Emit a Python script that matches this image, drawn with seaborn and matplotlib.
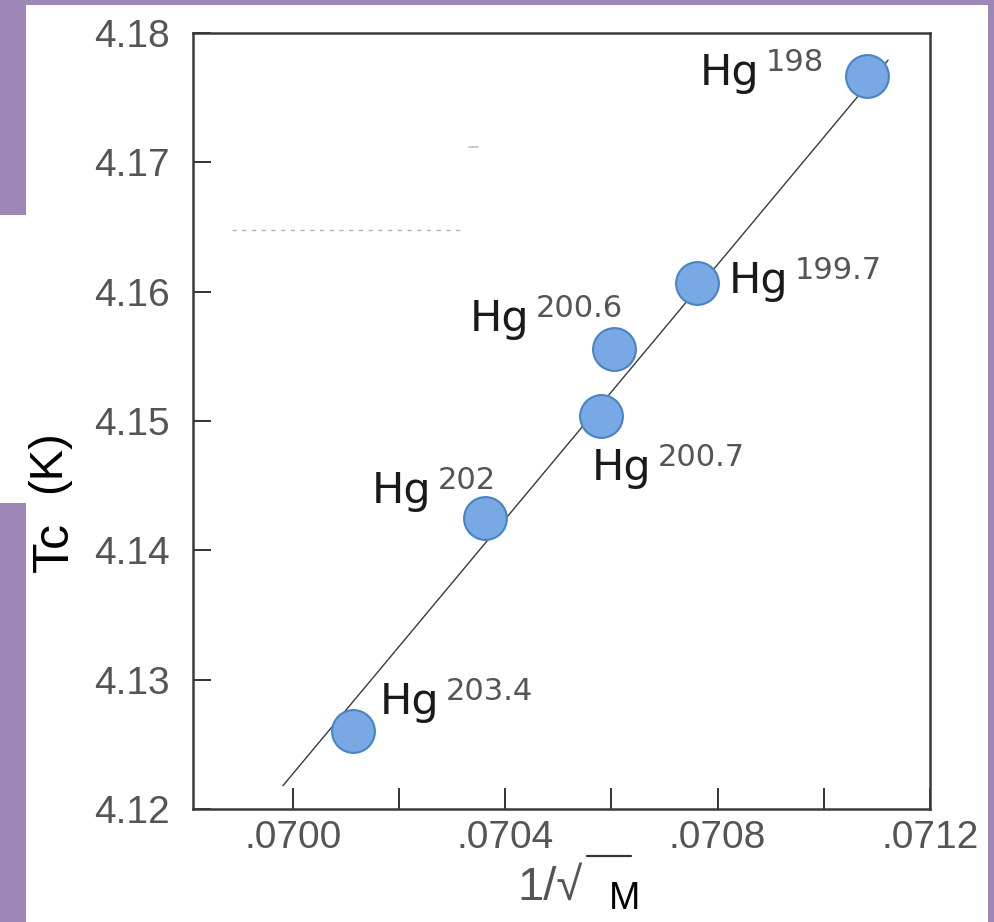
import matplotlib
matplotlib.use('Agg')
import matplotlib.pyplot as plt
import seaborn as sns
from matplotlib.patches import Rectangle
from matplotlib.lines import Line2D

# ---------------- data ----------------
isotopes = ['198', '199.7', '200.6', '200.7', '202', '203.4']
inv_sqrt_m = [0.071081, 0.070761, 0.070605, 0.070580, 0.070362, 0.070113]
tc_kelvin = [4.1767, 4.1607, 4.1556, 4.1504, 4.1425, 4.1260]

fit_x = [0.069981, 0.071121]
fit_y = [4.1218, 4.1779]

x_major = [0.0700, 0.0704, 0.0708, 0.0712]
x_major_labels = ['.0700', '.0704', '.0708', '.0712']
x_minor = [0.0702, 0.0706, 0.0710]
y_ticks = [4.12, 4.13, 4.14, 4.15, 4.16, 4.17, 4.18]
y_tick_labels = ['4.12', '4.13', '4.14', '4.15', '4.16', '4.17', '4.18']

# label offsets from point centre (pixels)
label_offsets = [(-167, -9), (32, -10), (-144, 18), (-9, -64), (-113, 15), (27, 17)]

# ---------------- style ----------------
sns.set_theme(style='white')
plt.rcParams['font.family'] = ['Liberation Sans', 'DejaVu Sans']

W, H = 994, 922
fig = plt.figure(figsize=(W / 100, H / 100), dpi=100)
fig.patch.set_facecolor('white')

purple = '#9c87b7'
def px_rect(x0, y0, x1, y1):
    fig.patches.append(Rectangle((x0 / W, 1 - y1 / H), (x1 - x0) / W, (y1 - y0) / H,
                                 transform=fig.transFigure, facecolor=purple,
                                 edgecolor='none', zorder=0))
px_rect(0, 0, W, 5)
px_rect(0, 0, 26, 215)
px_rect(0, 503, 26, H)
px_rect(988, 0, W, H)

ax = fig.add_axes([193 / W, 1 - 809 / H, (930 - 193) / W, (809 - 33) / H])
ax.set_facecolor('white')

sns.lineplot(x=fit_x, y=fit_y, color='#3a3a3a', linewidth=1.0, ax=ax, zorder=2)
sns.scatterplot(x=inv_sqrt_m, y=tc_kelvin, s=950, color='#78a9e4',
                edgecolor='#4a83c3', linewidth=1.5, ax=ax, zorder=3)

for iso, x, y, (dx, dy) in zip(isotopes, inv_sqrt_m, tc_kelvin, label_offsets):
    hg = ax.annotate('Hg', xy=(x, y), xytext=(dx, dy), textcoords='offset pixels',
                     ha='left', va='baseline', fontsize=31, family='DejaVu Sans',
                     color='#1a1a1a', zorder=4)
    ax.annotate(iso, xy=(1, 1), xycoords=hg, xytext=(6, 4), textcoords='offset pixels',
                ha='left', va='top', fontsize=22, family='DejaVu Sans',
                color='#555555', zorder=4)

ax.set_xlim(0.0700 - 100 / 106.17 * 0.0002, 0.0712)
ax.set_ylim(4.12, 4.18)
ax.set_xticks(x_major)
ax.set_xticklabels(x_major_labels)
ax.set_xticks(x_minor, minor=True)
ax.set_yticks(y_ticks)
ax.set_yticklabels(y_tick_labels)

ax.tick_params(axis='both', which='both', direction='in', color='#333333', width=1.4,
               bottom=True, left=True, top=False, right=False)
ax.tick_params(axis='x', which='both', length=15, pad=8, labelsize=28, labelcolor='#555555')
ax.tick_params(axis='y', which='both', length=13, pad=16.5, labelsize=28, labelcolor='#555555')

for sp in ax.spines.values():
    sp.set_visible(True)
    sp.set_color('#3a3a3a')
    sp.set_linewidth(1.8)

ax.set_xlabel('')
ax.set_ylabel('')

# faint leftover marks inside the plot area
fig.add_artist(Line2D([232 / W, 462 / W], [1 - 230 / H, 1 - 230 / H],
                      transform=fig.transFigure, color='#b0b0b0', linewidth=1.0,
                      linestyle=(0, (3, 4))))
fig.add_artist(Line2D([469 / W, 478 / W], [1 - 147 / H, 1 - 147 / H],
                      transform=fig.transFigure, color='#c0c0c0', linewidth=1.2))

# y-axis label pieces
fig.text(48 / W, 1 - 462 / H, '(K)', rotation=90, ha='center', va='center',
         fontsize=34, color='black')
fig.text(55 / W, 1 - 547 / H, 'Tc', rotation=90, ha='center', va='center',
         fontsize=36, color='black')

# x-axis label pieces
fig.text(550 / W, 1 - 888 / H, '1/\u221a', ha='center', va='center',
         fontsize=34, color='#555555')
fig.add_artist(Line2D([587 / W, 631 / W], [1 - 856 / H, 1 - 856 / H],
                      transform=fig.transFigure, color='#333333', linewidth=1.6))
fig.text(625 / W, 1 - 899 / H, 'M', ha='center', va='center',
         fontsize=27, color='black')

fig.savefig('out.png', dpi=100)
